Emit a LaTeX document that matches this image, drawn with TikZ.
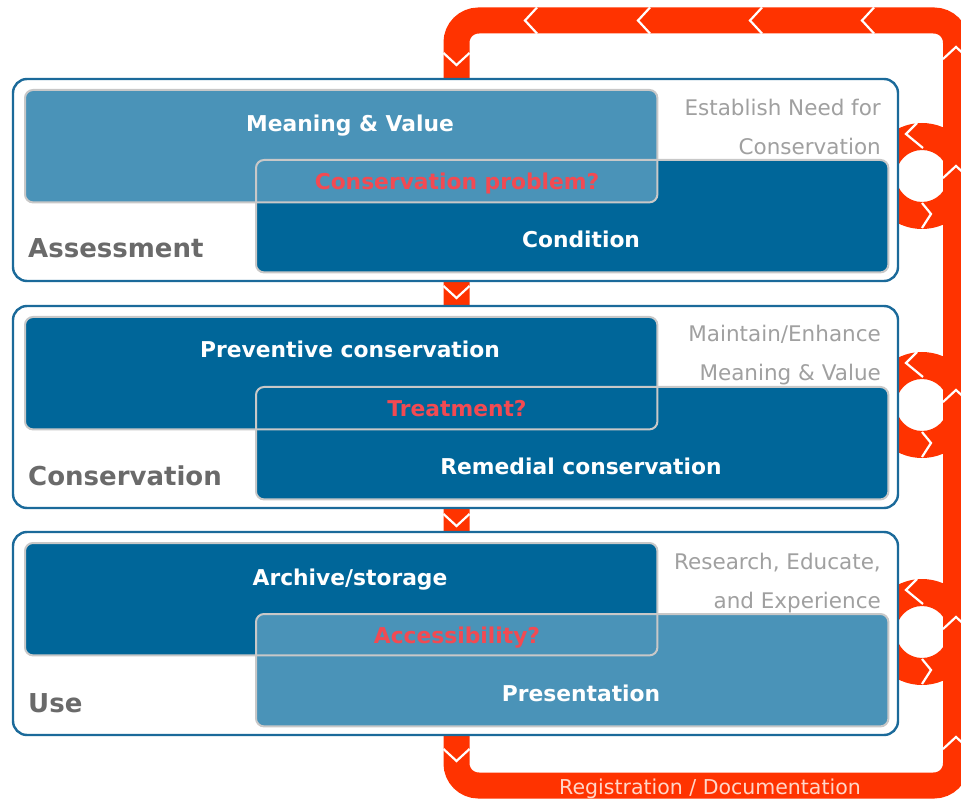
\documentclass[tikz,border=0pt]{standalone}
\usepackage{fontspec}
\setmainfont{DejaVu Sans}
\usetikzlibrary{calc}

\definecolor{loopred}{HTML}{FF3300}
\definecolor{darkblue}{HTML}{006699}
\definecolor{lightblue}{HTML}{4A93B8}
\definecolor{panelblue}{HTML}{1B6A9A}
\definecolor{rimgrey}{HTML}{C8C8C8}
\definecolor{qred}{HTML}{F24A52}
\definecolor{titlegrey}{HTML}{6A6A6A}
\definecolor{notegrey}{HTML}{A0A0A0}
\definecolor{regpink}{HTML}{FFD6C8}

\begin{document}
\begin{tikzpicture}[x=1pt,y=-1pt,
    loopband/.style={draw=loopred, line width=26pt, rounded corners=22pt},
    chev/.style={draw=white, line width=2.2pt},
    panel/.style={draw=panelblue, line width=2.4pt, fill=white, rounded corners=14pt},
    block/.style={rectangle, rounded corners=8pt, minimum width=632pt, minimum height=112pt, inner sep=0pt, anchor=north west},
    rim/.style={draw=rimgrey, line width=2pt, rounded corners=8pt},
    blocktext/.style={anchor=base, inner sep=0pt, text=white, font=\fontsize{21.8}{24}\selectfont\bfseries},
    qtext/.style={anchor=base, inner sep=0pt, text=qred, font=\fontsize{21.8}{24}\selectfont\bfseries},
    title/.style={anchor=base west, inner sep=0pt, text=titlegrey, font=\fontsize{26}{30}\selectfont\bfseries},
    note/.style={anchor=base east, inner sep=0pt, text=notegrey, font=\fontsize{21.5}{24}\selectfont}]
\clip (0,0) rectangle (961,799);

% Registration loop:
% one thick rounded band, the panels are laid over its left side
\draw[loopband] (456.5,20.5) rectangle (956,785.5);
\foreach \cy in {176,405,632}
    \fill[loopred, even odd rule] (922,\cy) circle (53pt) (922,\cy) circle (26pt);

% Flow chevrons on the band
\foreach \x in {525,638,750,862}
    \draw[chev] (\x+12,7.5) -- (\x,20.5) -- (\x+12,33.5);
\foreach \y in {53,286,514,749}
    \draw[chev] (443.5,\y) -- (456.5,\y+12) -- (469.5,\y);
\foreach \y in {47,166,390,617,737}
    \draw[chev] (943,\y+12) -- (956,\y) -- (969,\y+12);
\foreach \cy in {176,405,632} {
    \draw[chev] (917,\cy-53) -- (906,\cy-42) -- (923,\cy-28);
    \draw[chev] (922,\cy+27) -- (931,\cy+38) -- (922,\cy+52);
}
\node[text=regpink, font=\fontsize{20.5}{24}\selectfont, anchor=base, inner sep=0pt] (reg) at (710,794) {Registration / Documentation};

% Assessment
\draw[panel] (13,79) rectangle (898,281);
\node[block, fill=darkblue] (cond) at (256,160) {};
\node[block, fill=lightblue] (mean) at (25,90) {};
\draw[rim] (cond.north west) rectangle (cond.south east);
\draw[rim] (mean.north west) rectangle (mean.south east);
\node[blocktext] (meantxt) at (350,132) {Meaning \& Value};
\node[qtext] (problem) at (457,190) {Conservation problem?};
\node[blocktext] (condtxt) at (581,248) {Condition};
\node[title] (assess) at (28,258) {Assessment};
\node[note] (need) at (881,116) {Establish Need for};
\node[note] (need2) at (881,155) {Conservation};

% Conservation
\draw[panel] (13,306) rectangle (898,508);
\node[block, fill=darkblue] (remed) at (256,387) {};
\node[block, fill=darkblue] (prev) at (25,317) {};
\draw[rim] (remed.north west) rectangle (remed.south east);
\draw[rim] (prev.north west) rectangle (prev.south east);
\node[blocktext] (prevtxt) at (350,358) {Preventive conservation};
\node[qtext] (treat) at (457,417) {Treatment?};
\node[blocktext] (remedtxt) at (581,474) {Remedial conservation};
\node[title] (conserv) at (28,485) {Conservation};
\node[note] (maint) at (881,342) {Maintain/Enhance};
\node[note] (maint2) at (881,381) {Meaning \& Value};

% Use
\draw[panel] (13,532) rectangle (898,735);
\node[block, fill=darkblue] (arch) at (25,543) {};
\node[block, fill=lightblue] (pres) at (256,614) {};
\draw[rim] (arch.north west) rectangle (arch.south east);
\draw[rim] (pres.north west) rectangle (pres.south east);
\node[blocktext] (archtxt) at (350,585) {Archive/storage};
\node[qtext] (access) at (457,643) {Accessibility?};
\node[blocktext] (prestxt) at (581,701) {Presentation};
\node[title] (use) at (28,712) {Use};
\node[note] (research) at (881,569) {Research, Educate,};
\node[note] (research2) at (881,608) {and Experience};
\end{tikzpicture}
\end{document}
